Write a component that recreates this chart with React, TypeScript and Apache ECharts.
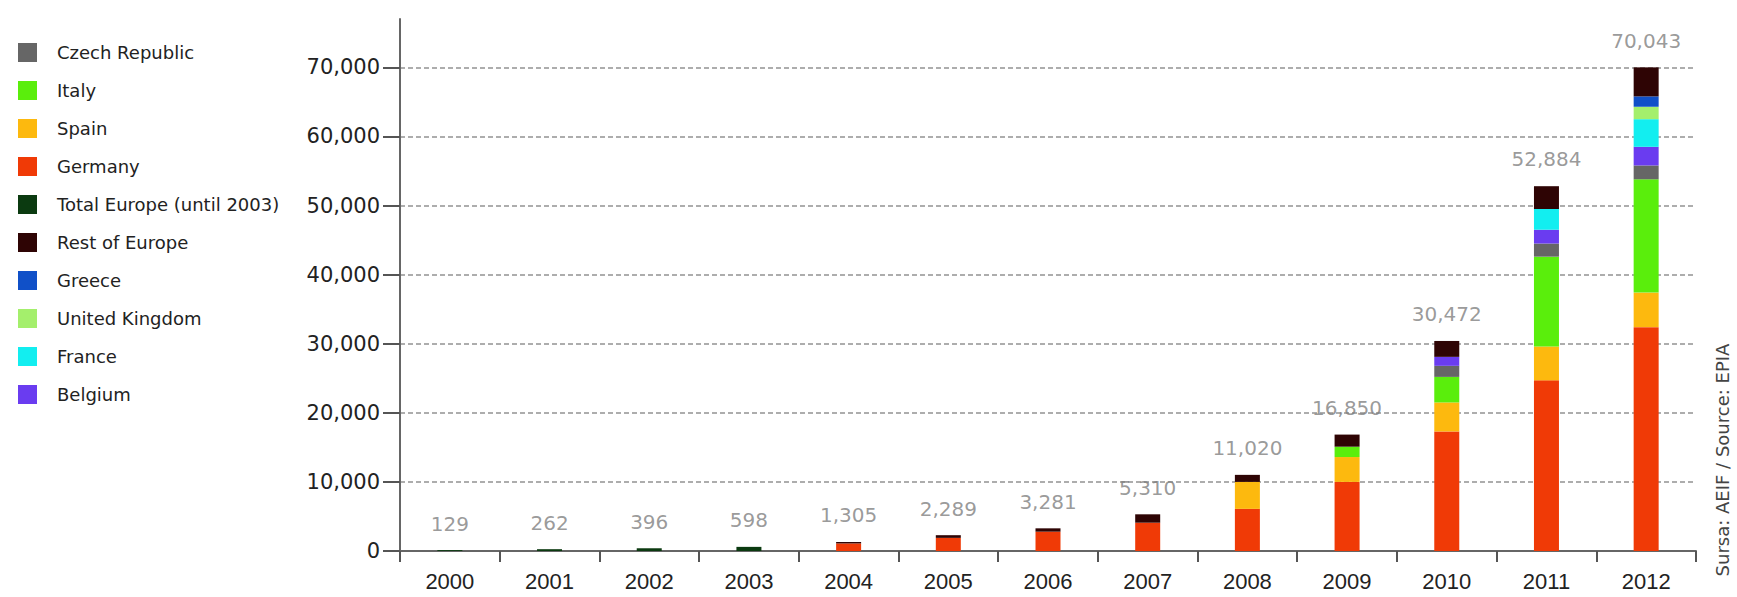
import React, { useEffect, useRef } from 'react';
import * as echarts from 'echarts';

const years = ['2000', '2001', '2002', '2003', '2004', '2005', '2006', '2007', '2008', '2009', '2010', '2011', '2012'];
const totals = [129, 262, 396, 598, 1305, 2289, 3281, 5310, 11020, 16850, 30472, 52884, 70043];

const totalEurope = [129, 262, 396, 598, null, null, null, null, null, null, null, null, null];
const germany = [null, null, null, null, 1100, 1900, 2800, 4100, 6100, 10000, 17300, 24700, 32400];
const spain = [null, null, null, null, null, null, null, null, 3900, 3600, 4200, 4900, 5000];
const italy = [null, null, null, null, null, null, null, null, null, 1500, 3700, 13000, 16400];
const czechRepublic = [null, null, null, null, null, null, null, null, null, null, 1600, 1900, 2000];
const belgium = [null, null, null, null, null, null, null, null, null, null, 1300, 2000, 2700];
const france = [null, null, null, null, null, null, null, null, null, null, null, 3000, 4000];
const unitedKingdom = [null, null, null, null, null, null, null, null, null, null, null, null, 1800];
const greece = [null, null, null, null, null, null, null, null, null, null, null, null, 1500];
const restOfEurope = [null, null, null, null, 205, 389, 481, 1210, 1020, 1750, 2300, 3300, 4200];

const yTickValues = [0, 10000, 20000, 30000, 40000, 50000, 60000, 70000];
const legendOrder = [
  'Czech Republic', 'Italy', 'Spain', 'Germany', 'Total Europe (until 2003)',
  'Rest of Europe', 'Greece', 'United Kingdom', 'France', 'Belgium',
];
const sourceText = 'Sursa: AEIF / Source: EPIA';

const stackSeries = [
  { name: 'Total Europe (until 2003)', data: totalEurope, color: '#0b3a10' },
  { name: 'Germany', data: germany, color: '#f03a06' },
  { name: 'Spain', data: spain, color: '#fdb90e' },
  { name: 'Italy', data: italy, color: '#5aee0c' },
  { name: 'Czech Republic', data: czechRepublic, color: '#666666' },
  { name: 'Belgium', data: belgium, color: '#6a3cf0' },
  { name: 'France', data: france, color: '#12eef0' },
  { name: 'United Kingdom', data: unitedKingdom, color: '#a4ef6c' },
  { name: 'Greece', data: greece, color: '#1050c8' },
  { name: 'Rest of Europe', data: restOfEurope, color: '#2e0404' },
];

export default function App() {
  const ref = useRef<HTMLDivElement>(null);
  useEffect(() => {
    const chart = echarts.init(ref.current!, null, { renderer: 'svg' });
    const fmt = (v: number) => v.toLocaleString('en-US');
    chart.setOption({
      animation: false,
      backgroundColor: '#ffffff',
      legend: {
        data: legendOrder,
        orient: 'vertical',
        left: 13,
        top: 38,
        itemWidth: 19,
        itemHeight: 19,
        itemGap: 19,
        icon: 'rect',
        selectedMode: false,
        textStyle: {
          fontFamily: 'DejaVu Sans',
          fontSize: 18,
          color: '#222',
          padding: [0, 0, 0, 15],
        },
      },
      grid: { left: 400, right: 41, top: 19, bottom: 46, containLabel: false },
      xAxis: {
        type: 'category',
        data: years,
        boundaryGap: true,
        axisLine: { lineStyle: { color: '#666', width: 2 } },
        axisTick: { show: true, length: 11, lineStyle: { color: '#555', width: 2 } },
        axisLabel: { margin: 19, fontFamily: 'Liberation Sans', fontSize: 22, color: '#222' },
        splitLine: { show: false },
      },
      yAxis: {
        type: 'value',
        min: 0,
        max: 77000,
        interval: 10000,
        axisLine: { show: true, lineStyle: { color: '#666', width: 2 } },
        axisTick: { show: true, length: 17, customValues: yTickValues, lineStyle: { color: '#555', width: 2 } },
        axisLabel: {
          margin: 20,
          customValues: yTickValues,
          fontFamily: 'DejaVu Sans',
          fontSize: 21,
          color: '#222',
          formatter: (v: number) => fmt(v),
        },
        splitLine: {
          show: true,
          lineStyle: { color: '#adadad', width: 2, type: [5, 3] },
        },
      },
      graphic: [
        {
          type: 'text',
          x: 1722,
          y: 460,
          rotation: Math.PI / 2,
          style: {
            text: sourceText,
            fontFamily: 'DejaVu Sans',
            fontSize: 18,
            fill: '#444',
            align: 'center',
            verticalAlign: 'middle',
          },
        },
      ],
      series: [
        ...stackSeries.map((s) => ({
          name: s.name,
          type: 'bar',
          stack: 'total',
          barWidth: 25,
          data: s.data,
          itemStyle: { color: s.color },
        })),
        {
          name: 'totals',
          type: 'scatter',
          data: totals,
          symbolSize: 1,
          itemStyle: { color: 'rgba(0,0,0,0)' },
          z: 10,
          label: {
            show: true,
            position: 'top',
            distance: 16,
            fontFamily: 'DejaVu Sans',
            fontSize: 20,
            color: '#808080',
            formatter: (p: any) => fmt(totals[p.dataIndex]),
          },
        },
      ],
    });
    return () => chart.dispose();
  }, []);
  return (
    <div
      ref={ref}
      style={{ position: 'fixed', left: 0, top: 0, width: 1737, height: 597, background: '#fff' }}
    />
  );
}
